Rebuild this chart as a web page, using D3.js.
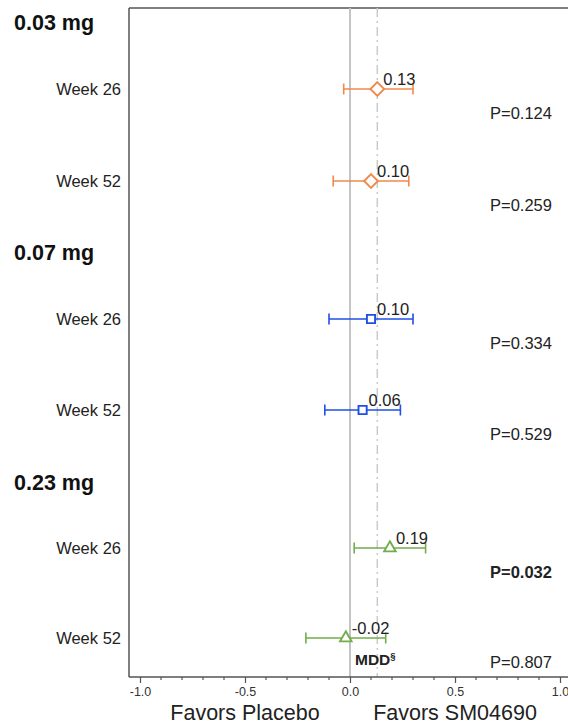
<!DOCTYPE html>
<html>
<head>
<meta charset="utf-8">
<script src="https://cdn.jsdelivr.net/npm/d3@7"></script>
<style>
  body { margin: 0; background: #fff; }
  svg { font-family: "Liberation Sans", Arial, sans-serif; }
</style>
</head>
<body>
<div id="chart"></div>
<script>
// groups and rows
var groups = ['0.03 mg', '0.07 mg', '0.23 mg'];
var groupColors = ['#f0894a', '#1f4fe6', '#72ad4a'];
var groupShapes = ['diamond', 'square', 'triangle'];
var weeks = ['Week 26', 'Week 52'];

// estimates and CIs per group (week 26, week 52)
var estimates = [[0.13, 0.10], [0.10, 0.06], [0.19, -0.02]];
var lower = [[-0.03, -0.08], [-0.10, -0.12], [0.02, -0.21]];
var upper = [[0.30, 0.28], [0.30, 0.24], [0.36, 0.17]];
var pValues = [['P=0.124', 'P=0.259'], ['P=0.334', 'P=0.529'], ['P=0.032', 'P=0.807']];
var significant = [[false, false], [false, false], [true, false]];

var mdd = 0.13;
var xTicks = [-1.0, -0.5, 0.0, 0.5, 1.0];

var W = 568, H = 725;
var svg = d3.select('#chart').append('svg')
  .attr('width', W)
  .attr('height', H);

var plotLeft = 129, plotTop = 8, plotBottom = 677;

var x = d3.scaleLinear().domain([-1, 1]).range([140, 560]);

// vertical positions of rows and group headers
var rowPos = [89, 181, 319, 410, 548, 638];
var headPos = [22, 252, 482];
function rowY(g, w) { return rowPos[g * 2 + w]; }

// frame
svg.append('line')
  .attr('x1', plotLeft).attr('x2', plotLeft)
  .attr('y1', plotTop).attr('y2', plotBottom)
  .attr('stroke', '#555').attr('stroke-width', 1.5);
svg.append('line')
  .attr('x1', plotLeft).attr('x2', W + 5)
  .attr('y1', plotTop).attr('y2', plotTop)
  .attr('stroke', '#555').attr('stroke-width', 1.5);

// zero line
svg.append('line')
  .attr('x1', x(0)).attr('x2', x(0))
  .attr('y1', plotTop).attr('y2', plotBottom)
  .attr('stroke', '#c4c4c4').attr('stroke-width', 2);

// MDD line
svg.append('line')
  .attr('x1', x(mdd)).attr('x2', x(mdd))
  .attr('y1', plotTop).attr('y2', plotBottom)
  .attr('stroke', '#cacaca').attr('stroke-width', 1.5)
  .attr('stroke-dasharray', '9,4,2,4');

// axis
var axis = d3.axisBottom(x).tickValues(xTicks)
  .tickFormat(function(d) { return d.toFixed(1); })
  .tickSize(6);
var gAxis = svg.append('g')
  .attr('transform', 'translate(0,' + plotBottom + ')')
  .call(axis);
gAxis.select('.domain').remove();
gAxis.append('line')
  .attr('x1', plotLeft).attr('x2', W + 5)
  .attr('stroke', '#555').attr('stroke-width', 1.5);
gAxis.selectAll('.tick line').attr('stroke', '#555').attr('stroke-width', 1.2);
gAxis.selectAll('.tick text')
  .attr('y', 10)
  .attr('font-size', 12.5)
  .attr('font-family', '"Liberation Sans", Arial, sans-serif')
  .attr('fill', '#333');

// minor ticks
var minor = d3.range(-10, 11).map(function(d) { return d / 10; })
  .filter(function(d) { return Math.abs(d * 2 - Math.round(d * 2)) > 1e-6; });
gAxis.selectAll('.minor')
  .data(minor)
  .enter().append('line')
  .attr('class', 'minor')
  .attr('x1', function(d) { return x(d); })
  .attr('x2', function(d) { return x(d); })
  .attr('y1', 0).attr('y2', 3)
  .attr('stroke', '#555').attr('stroke-width', 1.2);

// axis titles
svg.append('text').attr('x', x(-0.5)).attr('y', 720)
  .attr('text-anchor', 'middle').attr('font-size', 21.5).attr('fill', '#222')
  .text('Favors Placebo');
svg.append('text').attr('x', x(0.5)).attr('y', 720)
  .attr('text-anchor', 'middle').attr('font-size', 21.5).attr('fill', '#222')
  .text('Favors SM04690');

function symbolFor(shape) {
  if (shape === 'diamond') return d3.symbol().type(d3.symbolDiamond2).size(120)();
  if (shape === 'square') return d3.symbol().type(d3.symbolSquare2).size(85)();
  return d3.symbol().type(d3.symbolTriangle2).size(95)();
}

groups.forEach(function(gName, g) {
  svg.append('text')
    .attr('x', 14).attr('y', headPos[g] + 8)
    .attr('font-size', 21.5).attr('font-weight', 'bold').attr('fill', '#111')
    .text(gName);

  weeks.forEach(function(wName, w) {
    var y = rowY(g, w);
    var col = groupColors[g];

    svg.append('text')
      .attr('x', 121).attr('y', y + 6)
      .attr('text-anchor', 'end').attr('font-size', 16.5).attr('fill', '#222')
      .text(wName);

    // CI line and caps
    svg.append('line')
      .attr('x1', x(lower[g][w])).attr('x2', x(upper[g][w]))
      .attr('y1', y).attr('y2', y)
      .attr('stroke', col).attr('stroke-width', 1.6);
    [lower[g][w], upper[g][w]].forEach(function(v) {
      svg.append('line')
        .attr('x1', x(v)).attr('x2', x(v))
        .attr('y1', y - 5.5).attr('y2', y + 5.5)
        .attr('stroke', col).attr('stroke-width', 1.6);
    });

    // marker
    svg.append('path')
      .attr('d', symbolFor(groupShapes[g]))
      .attr('transform', 'translate(' + x(estimates[g][w]) + ',' + y + ')')
      .attr('fill', '#fff').attr('stroke', col).attr('stroke-width', 1.9);

    // value label
    svg.append('text')
      .attr('x', x(estimates[g][w]) + 6).attr('y', y - 4)
      .attr('font-size', 16.5).attr('fill', '#222')
      .text(estimates[g][w].toFixed(2));

    // p value
    svg.append('text')
      .attr('x', 490).attr('y', y + 30)
      .attr('font-size', 16.5).attr('fill', '#222')
      .attr('font-weight', significant[g][w] ? 'bold' : 'normal')
      .text(pValues[g][w]);
  });
});

// MDD label
var mddText = svg.append('text')
  .attr('x', 355).attr('y', 665)
  .attr('font-size', 15.5).attr('font-weight', 'bold').attr('fill', '#222');
mddText.append('tspan').text('MDD');
mddText.append('tspan').attr('dy', -6).attr('font-size', 9.5).text('§');
</script>
</body>
</html>
